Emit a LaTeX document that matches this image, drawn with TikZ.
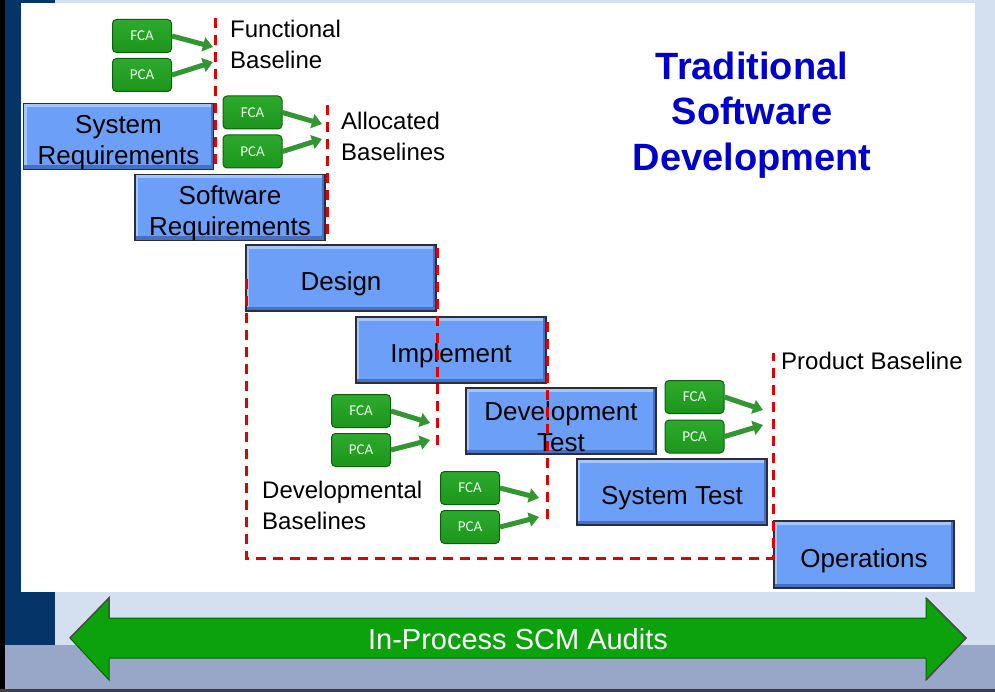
\documentclass[tikz,border=0pt]{standalone}
\usepackage{fontspec}
\setmainfont{Liberation Sans}
\newfontfamily\calfont{Carlito}
\usetikzlibrary{arrows.meta}
\definecolor{navy}{RGB}{4,52,104}
\definecolor{bgblue}{RGB}{212,224,239}
\definecolor{lav}{RGB}{152,166,200}
\definecolor{boxblue}{RGB}{108,160,248}
\definecolor{boxedge}{RGB}{45,45,55}
\definecolor{bevlight}{RGB}{165,198,252}
\definecolor{bevdark}{RGB}{70,112,196}
\definecolor{abgreen}{RGB}{28,150,28}
\definecolor{abtop}{RGB}{45,170,45}
\definecolor{abedge}{RGB}{12,95,12}
\definecolor{arrgreen}{RGB}{50,150,50}
\definecolor{bigarrow}{RGB}{12,162,12}
\definecolor{bigedge}{RGB}{0,105,0}
\definecolor{dashred}{RGB}{225,0,0}
\definecolor{titleblue}{RGB}{0,0,204}
\newcommand\lowln[1]{\raisebox{-6pt}[\height][\depth]{#1}}
\begin{document}
\begin{tikzpicture}[x=1pt,y=-1pt,
  blbox/.style={draw=boxedge, line width=1.5pt, fill=boxblue,
    minimum width=190pt, minimum height=66pt, inner sep=0pt,
    font=\fontsize{26}{31}\selectfont, align=center,
    path picture={
      \fill[bevlight] (path picture bounding box.north west) rectangle ([yshift=-4pt]path picture bounding box.north east);
      \fill[bevlight] (path picture bounding box.north west) rectangle ([xshift=3pt]path picture bounding box.south west);
      \fill[bevdark] ([yshift=4pt]path picture bounding box.south west) rectangle (path picture bounding box.south east);
      \fill[bevdark] ([xshift=-3pt]path picture bounding box.north east) rectangle (path picture bounding box.south east);
    }},
  abox/.style={draw=abedge, line width=1pt, top color=abtop, bottom color=abgreen,
    rounded corners=4pt, minimum width=59pt, minimum height=33pt, inner sep=0pt,
    font=\calfont\fontsize{15}{17}\selectfont, text=white!92!green},
  garrow/.style={draw=arrgreen, line width=5pt, -{Triangle[length=10pt,width=14pt]}},
  baseline line/.style={draw=dashred, line width=3pt, dash pattern=on 10pt off 7pt},
  lbl/.style={font=\fontsize{24}{31}\selectfont, align=left, inner sep=0pt, anchor=west},
  titletext/.style={font=\bfseries\fontsize{38}{45.5}\selectfont, text=titleblue, align=center, inner sep=0pt}
]
\useasboundingbox (0,0) rectangle (995,692);
% background
\fill[bgblue] (0,0) rectangle (995,692);
\fill[navy] (0,0) rectangle (55,645);
\fill[lav] (0,645) rectangle (995,692);
\fill[black] (0,0) rectangle (5,692);
\fill[black!75] (0,689) rectangle (995,692);
\fill[white] (21,3) rectangle (975,592);

% phase boxes
\node[blbox] (sysreq) at (118.5,136.5) {\lowln{System}\\\lowln{Requirements}};
\node[blbox] (swreq) at (230,207.5) {\lowln{Software}\\\lowln{Requirements}};
\node[blbox] (design) at (341,278) {\lowln{Design}};
\node[blbox] (impl) at (451,350) {\lowln{Implement}};
\node[blbox] (devtest) at (561,421) {\lowln{Development}\\\lowln{Test}};
\node[blbox] (systest) at (672,492) {\lowln{System Test}};
\node[blbox, minimum width=180pt, minimum height=67pt] (ops) at (864,554.5) {\lowln{Operations}};

% baseline dashed lines
\coordinate (l1a) at (215,18);  \coordinate (l1b) at (215,168);
\coordinate (l2a) at (327,105); \coordinate (l2b) at (327,237);
\coordinate (l3a) at (437,248); \coordinate (l3b) at (437,446);
\coordinate (l4a) at (547,322); \coordinate (l4b) at (547,525);
\coordinate (dla) at (246,279); \coordinate (dlb) at (246,558);
\coordinate (dlc) at (773,558); \coordinate (dld) at (773,353);
\path[baseline line] (l1a) -- (l1b);
\path[baseline line] (l2a) -- (l2b);
\path[baseline line] (l3a) -- (l3b);
\path[baseline line] (l4a) -- (l4b);
\path[baseline line] (dla) -- (dlb) -- (dlc) -- (dld);

% audit groups
\node[abox] (f1) at (142,36) {FCA};
\node[abox] (p1) at (142,75) {PCA};
\coordinate (tf1) at (213,47); \coordinate (tp1) at (213,62);
\draw[garrow] (f1.east) -- (tf1);
\draw[garrow] (p1.east) -- (tp1);

\node[abox] (f2) at (252.5,112.5) {FCA};
\node[abox] (p2) at (252.5,151.5) {PCA};
\coordinate (tf2) at (322,124); \coordinate (tp2) at (322,139);
\draw[garrow] (f2.east) -- (tf2);
\draw[garrow] (p2.east) -- (tp2);

\node[abox] (f3) at (361,411) {FCA};
\node[abox] (p3) at (361,450) {PCA};
\coordinate (tf3) at (430,423); \coordinate (tp3) at (430,440);
\draw[garrow] (f3.east) -- (tf3);
\draw[garrow] (p3.east) -- (tp3);

\node[abox] (f4) at (470,488) {FCA};
\node[abox] (p4) at (470,527) {PCA};
\coordinate (tf4) at (539,498); \coordinate (tp4) at (539,517);
\draw[garrow] (f4.east) -- (tf4);
\draw[garrow] (p4.east) -- (tp4);

\node[abox] (f5) at (694.5,397) {FCA};
\node[abox] (p5) at (694.5,436.5) {PCA};
\coordinate (tf5) at (763,410); \coordinate (tp5) at (763,425);
\draw[garrow] (f5.east) -- (tf5);
\draw[garrow] (p5.east) -- (tp5);

% labels
\node[lbl] (funcl) at (230,44.5) {Functional\\Baseline};
\node[lbl] (allocl) at (341,136.5) {Allocated\\Baselines};
\node[lbl] (devl) at (262,505) {Developmental\\Baselines};
\node[lbl] (prodl) at (781,361) {Product Baseline};
\node[titletext] (title) at (752,115) {Traditional\\Software\\Development};

% big double arrow
\path[fill=bigarrow, draw=bigedge, line width=1pt]
  (70,638) -- (109,598) -- (109,618) -- (926,618) -- (926,598) -- (966,638)
  -- (926,680) -- (926,658) -- (109,658) -- (109,680) -- cycle;
\draw[gray!60!black, line width=1.5pt] (70,638) -- (109,598) -- (109,618);
\draw[gray!60!black, line width=1.5pt] (926,598) -- (966,638) -- (926,680);
\node[font=\fontsize{29}{34}\selectfont, text=white, inner sep=0pt] (audits) at (518,639) {In-Process SCM Audits};
\end{tikzpicture}
\end{document}
